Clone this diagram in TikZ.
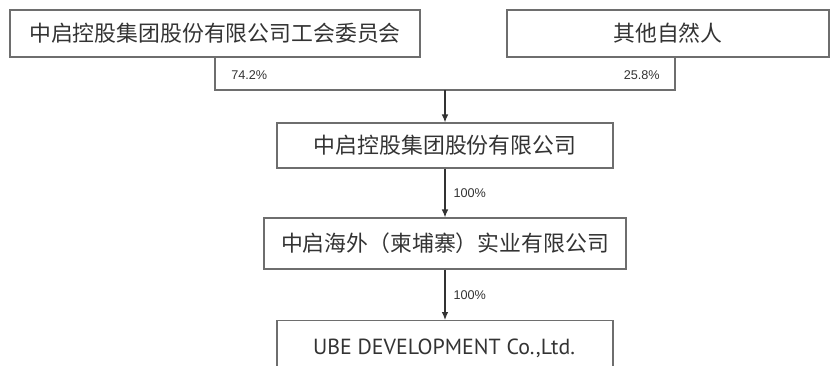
\documentclass[tikz,border=0pt]{standalone}
\usepackage{fontspec}
\setmainfont{Noto Sans CJK SC}
\newfontfamily\pctfont{Liberation Sans}
\newfontfamily\latinfont{PT Sans}
\usetikzlibrary{arrows.meta}
\definecolor{boxline}{HTML}{6E6E6E}
\definecolor{txtgray}{HTML}{333333}

\begin{document}
\begin{tikzpicture}[x=0.75pt,y=-0.75pt,
		every node/.style={text=txtgray},
		holder/.style={draw=boxline, line width=0.9pt, minimum height=#1*0.75pt, inner sep=0pt, font=\fontsize{16.4}{19}\selectfont},
		holder/.default=47,
		pct/.style={font=\pctfont\fontsize{9.5}{11}\selectfont, inner sep=0pt},
		link/.style={draw=txtgray, line width=0.9pt, -{Latex[length=6pt,width=5pt]}}]
		\clip (0,0) rectangle (832,365);
		\useasboundingbox (0,0) rectangle (832,365);
		% shareholders
		\node[holder, minimum width=410*0.75pt] (union) at (215,33.5) {中启控股集团股份有限公司工会委员会};
		\node[holder, minimum width=322*0.75pt] (people) at (668,33.5) {其他自然人};
		\coordinate (pright) at (675,57);
		\coordinate (join) at (445,90);
		\draw[boxline, line width=0.9pt] (union.south) |- (join) -| (pright);
		\node[pct, anchor=west] (p742) at (231,75) {74.2\%};
		\node[pct, anchor=east] (p258) at (660,75) {25.8\%};
		% holding chain
		\node[holder=45, minimum width=336*0.75pt] (group) at (445,145.5) {中启控股集团股份有限公司};
		\node[holder=51, minimum width=362*0.75pt] (cambo) at (445,243.5) {中启海外（柬埔寨）实业有限公司};
		\node[holder=90, minimum width=336*0.75pt, anchor=north] (ube) at (445,320) {};
		\node (ubetext) at (444,348) {\latinfont\fontsize{16.4}{19}\selectfont UBE DEVELOPMENT Co.,Ltd.};
		\draw[link] (join) -- (group.north);
		\draw[link] (group.south) -- node[pct, right=6pt] (p100a) {100\%} (cambo.north);
		\draw[link] (cambo.south) -- node[pct, right=6pt] (p100b) {100\%} (ube.north);
\end{tikzpicture}
\end{document}
